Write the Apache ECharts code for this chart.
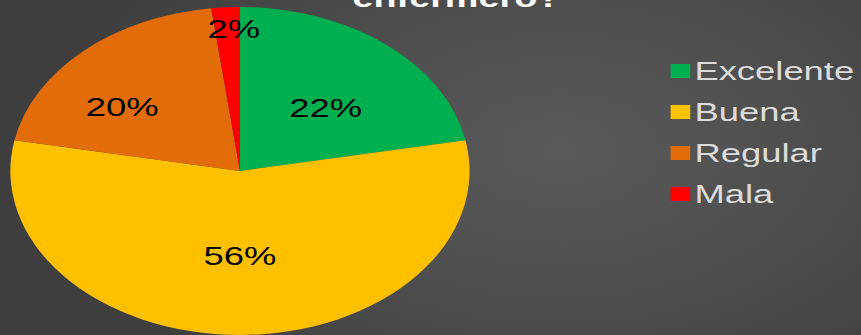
<!DOCTYPE html>
<html>
<head>
<meta charset="utf-8">
<script src="https://cdn.jsdelivr.net/npm/echarts@6/dist/echarts.min.js"></script>
<style>
  html, body { margin: 0; padding: 0; }
  body {
    width: 861px; height: 335px; overflow: hidden;
    background: radial-gradient(ellipse 520px 300px at 560px 150px, #595959 0%, #4f4f4f 45%, #3e3e3e 100%);
  }
  /* the slide graphic is stretched horizontally, so the chart is laid out
     narrower and widened with a transform */
  #wrap {
    width: 615px; height: 335px;
    transform: scaleX(1.4); transform-origin: 0 0;
  }
  #chart { width: 615px; height: 335px; }
</style>
</head>
<body>
<div id="wrap"><div id="chart"></div></div>
<script>
// Answer shares (%)
const categories = ['Excelente', 'Buena', 'Regular', 'Mala'];
const values = [22, 56, 20, 2];
const colors = ['#00B050', '#FFC000', '#E36C0A', '#FF0000'];
const titleText = 'enfermero?';

// per-slice nudges for the inner labels (best-fit placement)
const labelOffset = {
  Excelente: [7, 2],
  Buena: [0, 0],
  Regular: [-26, -2],
  Mala: [1, -57]
};

const chart = echarts.init(document.getElementById('chart'), null, { renderer: 'svg' });

chart.setOption({
  backgroundColor: 'transparent',
  animation: false,
  color: colors,
  title: {
    text: titleText,
    left: 321,
    textAlign: 'center',
    top: -21,
    textStyle: {
      color: '#ffffff',
      fontFamily: 'Liberation Sans, Arial, sans-serif',
      fontWeight: 'bold',
      fontSize: 27
    }
  },
  legend: {
    orient: 'vertical',
    left: 474,
    top: 53,
    itemWidth: 14,
    itemHeight: 14,
    itemGap: 15,
    icon: 'rect',
    data: categories,
    textStyle: {
      color: '#dcdcdc',
      fontFamily: 'Liberation Sans, Arial, sans-serif',
      fontSize: 26,
      padding: [0, 0, 0, -2]
    }
  },
  series: [{
    type: 'pie',
    center: [171.4, 171],
    radius: 164,
    startAngle: 90,
    clockwise: true,
    avoidLabelOverlap: false,
    labelLine: { show: false },
    itemStyle: { borderWidth: 0 },
    label: {
      show: true,
      position: 'inner',
      formatter: '{c}%',
      color: '#000000',
      fontFamily: 'Liberation Sans, Arial, sans-serif',
      fontSize: 26
    },
    emphasis: { disabled: true },
    data: categories.map((name, i) => ({
      name: name,
      value: values[i],
      label: { offset: labelOffset[name] }
    }))
  }]
});
</script>
</body>
</html>
